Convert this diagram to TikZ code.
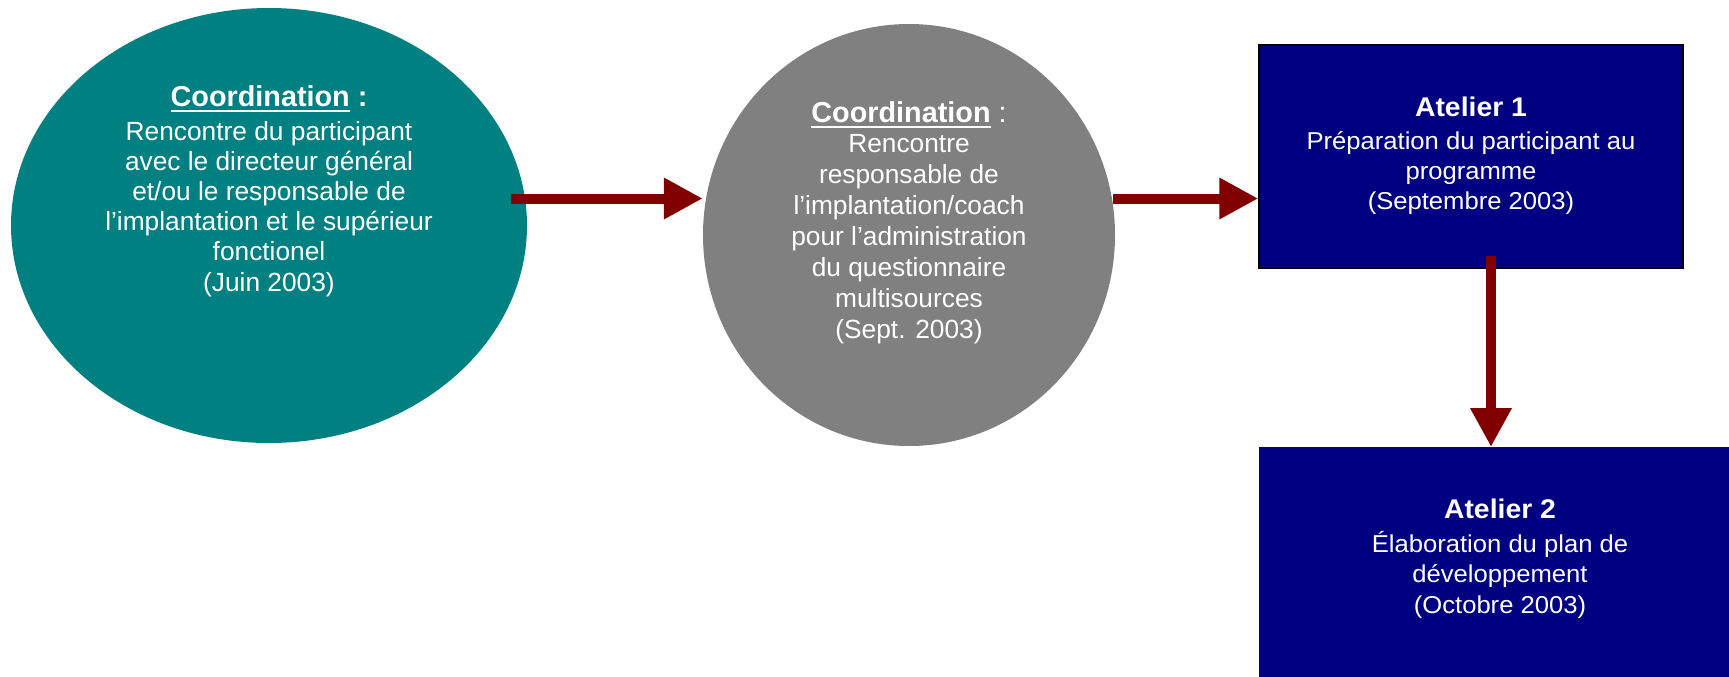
\documentclass[tikz,border=0pt]{standalone}
\usepackage{fontspec}
\setmainfont{Liberation Sans}
\newfontfamily\boxfont[FakeStretch=1.05]{Liberation Sans}
\usetikzlibrary{shapes.geometric,arrows.meta}

\definecolor{tealfill}{RGB}{0,128,128}
\definecolor{grayfill}{RGB}{128,128,128}
\definecolor{navyfill}{RGB}{0,0,128}
\definecolor{arrowred}{RGB}{128,0,0}

% centred lines stacked in a \vtop, so the node baseline is the first line's
\newcommand\stacklines[1]{\vtop{\halign{\hfil##\hfil\cr#1\crcr}}}
% underline with a fixed gap and thickness
\newcommand\uline[1]{\vtop{\hbox{#1}\kern3.5pt\hrule height 2.6pt}}

\begin{document}
\begin{tikzpicture}[x=1pt,y=-1pt,
  blob/.style={ellipse, draw=none, inner sep=0pt},
  stage/.style={rectangle, fill=navyfill, inner sep=0pt},
  ttl/.style={text=white, inner sep=0pt, anchor=base,
    font=\fontsize{28.8}{33}\selectfont\bfseries},
  bodytxt/.style={text=white, inner sep=0pt, anchor=base,
    font=\fontsize{26.3}{30.2}\selectfont},
  boxttl/.style={text=white, inner sep=0pt, anchor=base,
    font=\boxfont\fontsize{27}{30}\selectfont\bfseries},
  boxtxt/.style={text=white, inner sep=0pt, anchor=base,
    font=\boxfont\fontsize{24.4}{30.3}\selectfont},
  flow/.style={draw=arrowred, line width=10pt,
    -{Triangle[length=39pt,width=39pt]}}]

\useasboundingbox (0,0) rectangle (1729,677);
\clip (0,0) rectangle (1729,677);

% shapes
\node[blob, fill=tealfill, minimum width=516pt, minimum height=435pt] (e1) at (269,225.5) {};
\node[blob, fill=grayfill, minimum width=412pt, minimum height=422pt] (e2) at (909,235) {};
\node[stage, draw=black, line width=1.5pt, minimum width=424pt, minimum height=223pt] (b1) at (1471,156.5) {};
\node[stage, draw=navyfill, minimum width=482pt, minimum height=260pt, anchor=north] (b2) at (1500,447) {};

% first step
\node[ttl] (t1) at (269,106) {\uline{Coordination} :};
\node[bodytxt] (t1b) at (269,140) {\stacklines{Rencontre du participant\cr
  avec le directeur général\cr
  et/ou le responsable de\cr
  l’implantation et le supérieur\cr
  fonctionel\cr
  (Juin 2003)}};

% second step
\node[ttl] (t2) at (909,122) {\uline{Coordination}\mdseries\ :};
\node[bodytxt, font=\fontsize{26.3}{31}\selectfont] (t2b) at (909,152) {\stacklines{Rencontre\cr
  responsable de\cr
  l’implantation/coach\cr
  pour l’administration\cr
  du questionnaire\cr
  multisources\cr
  (Sept. 2003)}};

% workshops
\node[boxttl] (t3) at (1471,116) {Atelier 1};
\node[boxtxt] (t3b) at (1471,149) {\stacklines{Préparation du participant au\cr
  programme\cr
  (Septembre 2003)}};
\node[boxttl] (t4) at (1500,518) {Atelier 2};
\node[boxtxt, font=\boxfont\fontsize{24.4}{30.9}\selectfont] (t4b) at (1500,552) {\stacklines{Élaboration du plan de\cr
  développement\cr
  (Octobre 2003)}};

% connectors
\coordinate (a1s) at (511,198.5);
\coordinate (a2s) at (1113,198.5);
\coordinate (a3s) at (1491,256);
\draw[flow] (a1s) -- (a1s -| e2.west);
\draw[flow] (a2s) -- (a2s -| b1.west);
\draw[flow] (a3s) -- (a3s |- b2.north);
\end{tikzpicture}
\end{document}
